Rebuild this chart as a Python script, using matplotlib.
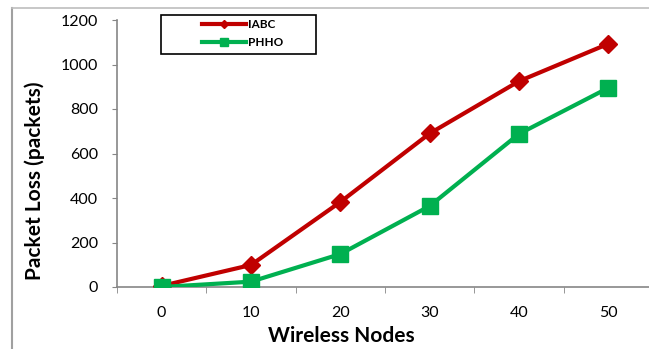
import matplotlib
matplotlib.use("Agg")
import matplotlib.pyplot as plt
from matplotlib.lines import Line2D
from matplotlib.patches import Rectangle

# data
nodes = ["0", "10", "20", "30", "40", "50"]
iabc = [5, 99, 382, 690, 925, 1093]
phho = [0, 24, 148, 364, 688, 895]
yticks = [0, 200, 400, 600, 800, 1000, 1200]

plt.rcParams['font.family'] = ['Lato', 'DejaVu Sans']

W, H = 649, 349
fig = plt.figure(figsize=(W / 100, H / 100), dpi=100)
# axes: x from 117px, each category ~89.3px wide, y 0 at 287px and 1200 at 20px
ax = fig.add_axes([117 / W, 1 - 287 / H, 536 / W, 267 / H])

xs = list(range(len(nodes)))
ax.plot(xs, iabc, color="#C00000", lw=3, marker="D", ms=9.5, label="IABC", zorder=3)
ax.plot(xs, phho, color="#00B050", lw=3, marker="s", ms=11.5, label="PHHO", zorder=3)

ax.set_xlim(-0.5, 5.5)
ax.set_ylim(0, 1200)
ax.set_yticks(yticks)
ax.set_xticks(xs)
ax.set_xticklabels(nodes)
# ticks between categories like excel
ax.set_xticks([i + 0.5 for i in range(-1, len(nodes))], minor=True)
ax.tick_params(axis="x", which="major", length=0, labelsize=11.5, pad=14)
ax.tick_params(axis="x", which="minor", length=4.3, color="#868686", direction="out")
ax.tick_params(axis="y", length=3.6, color="#868686", labelsize=11.5, pad=10)

for s in ["top", "right"]:
    ax.spines[s].set_visible(False)
ax.spines["left"].set_color("#868686")
ax.spines["bottom"].set_color("#868686")
ax.spines["left"].set_linewidth(1.2)
ax.spines["bottom"].set_linewidth(1.2)

# axis titles placed like the excel ones
fig.text(341 / W, 1 - 336 / H, "Wireless Nodes", fontsize=15, fontweight="bold",
         ha="center", va="center")
fig.text(35 / W, 1 - 181 / H, "Packet Loss (packets)", fontsize=15, fontweight="bold",
         ha="center", va="center", rotation=90)

# legend box
fig.add_artist(Rectangle((161 / W, 1 - 54 / H), 155 / W, 39 / H, transform=fig.transFigure,
                         fill=False, edgecolor="black", lw=1.2))
fig.legend(loc="center left", bbox_to_anchor=(196 / W, 1 - 33.5 / H), frameon=False,
           prop={"size": 8.5, "weight": "bold"}, handlelength=3.7, handletextpad=0.2,
           labelspacing=0.55, markerscale=0.45, borderpad=0)

# outer chart border (gray)
fig.add_artist(Line2D([12 / W, 12 / W], [0, 1 - 8 / H], transform=fig.transFigure,
                      color="#a0a0a0", lw=1.5))
fig.add_artist(Line2D([12 / W, 1], [1 - 8 / H, 1 - 8 / H], transform=fig.transFigure,
                      color="#bdbdbd", lw=1.2))

fig.savefig("out.png", dpi=100)
